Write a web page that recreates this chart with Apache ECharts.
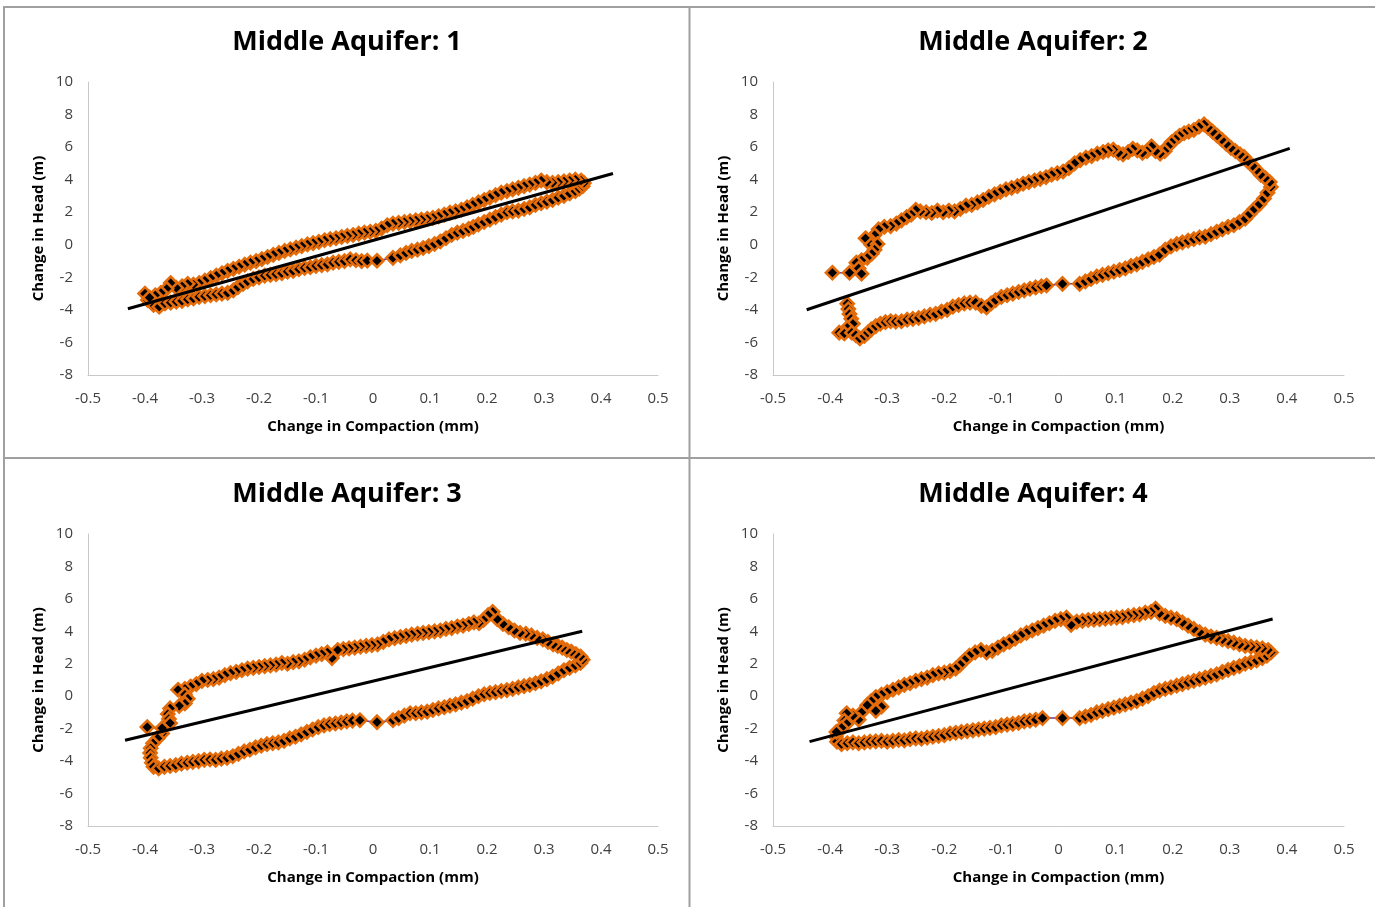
<!DOCTYPE html>
<html><head><meta charset="utf-8">
<script src="https://cdn.jsdelivr.net/npm/echarts@6/dist/echarts.min.js"></script>
<style>html,body{margin:0;padding:0;background:#fff}#c{width:1375px;height:907px}</style>
</head><body><div id="c"></div>
<script>
const panelTitles = ['Middle Aquifer: 1','Middle Aquifer: 2','Middle Aquifer: 3','Middle Aquifer: 4'];
const xName = 'Change in Compaction (mm)';
const yName = 'Change in Head (m)';
const xMin = -0.5, xMax = 0.5, xStep = 0.1;
const yMin = -8, yMax = 10, yStep = 2;

const loop1 = [[-0.40,-3.0],[-0.395,-3.4],[-0.385,-3.7],[-0.375,-3.8],[-0.365,-3.6],[-0.355,-3.55],[-0.345,-3.5],[-0.335,-3.45],[-0.325,-3.35],[-0.315,-3.3],[-0.305,-3.2],[-0.295,-3.15],[-0.285,-3.1],[-0.275,-3.05],[-0.265,-3.0],[-0.255,-2.95],[-0.245,-2.8],[-0.237,-2.6],[-0.228,-2.4],[-0.22,-2.25],[-0.21,-2.1],[-0.2,-2.0],[-0.19,-1.9],[-0.18,-1.85],[-0.17,-1.8],[-0.16,-1.75],[-0.15,-1.65],[-0.14,-1.6],[-0.13,-1.5],[-0.12,-1.42],[-0.11,-1.38],[-0.1,-1.3],[-0.09,-1.25],[-0.08,-1.2],[-0.07,-1.1],[-0.06,-1.05],[-0.05,-1.0],[-0.04,-0.9],[-0.03,-0.95],[-0.02,-1.0],[-0.01,-0.97],[0.007,-0.98],[0.035,-0.8],[0.048,-0.65],[0.058,-0.5],[0.068,-0.38],[0.078,-0.3],[0.088,-0.2],[0.098,-0.08],[0.108,0.05],[0.118,0.2],[0.128,0.4],[0.138,0.6],[0.148,0.75],[0.158,0.85],[0.168,0.98],[0.176,1.1],[0.185,1.25],[0.195,1.4],[0.205,1.55],[0.215,1.7],[0.225,1.85],[0.235,2.0],[0.245,2.05],[0.255,2.1],[0.265,2.2],[0.275,2.3],[0.285,2.45],[0.295,2.55],[0.305,2.65],[0.315,2.75],[0.325,2.9],[0.335,3.0],[0.345,3.15],[0.355,3.3],[0.362,3.45],[0.368,3.6],[0.37,3.8],[0.365,3.95],[0.355,4.0],[0.345,3.95],[0.335,3.9],[0.325,3.85],[0.315,3.8],[0.305,3.85],[0.295,3.95],[0.285,3.8],[0.275,3.7],[0.265,3.6],[0.255,3.5],[0.245,3.4],[0.235,3.3],[0.225,3.2],[0.215,3.05],[0.205,2.9],[0.195,2.75],[0.185,2.6],[0.175,2.45],[0.165,2.3],[0.155,2.15],[0.145,2.05],[0.135,1.97],[0.125,1.85],[0.115,1.75],[0.105,1.65],[0.095,1.6],[0.085,1.55],[0.075,1.5],[0.065,1.45],[0.055,1.4],[0.045,1.35],[0.035,1.3],[0.025,1.2],[0.015,1.0],[0.005,0.85],[-0.005,0.8],[-0.015,0.75],[-0.025,0.68],[-0.035,0.6],[-0.045,0.55],[-0.055,0.48],[-0.065,0.4],[-0.075,0.35],[-0.085,0.28],[-0.095,0.18],[-0.105,0.1],[-0.115,0.02],[-0.125,-0.08],[-0.135,-0.18],[-0.145,-0.28],[-0.155,-0.38],[-0.165,-0.5],[-0.175,-0.62],[-0.185,-0.75],[-0.195,-0.88],[-0.205,-1.0],[-0.215,-1.1],[-0.225,-1.22],[-0.235,-1.35],[-0.245,-1.48],[-0.255,-1.6],[-0.265,-1.75],[-0.275,-1.9],[-0.285,-2.05],[-0.295,-2.2],[-0.305,-2.35],[-0.315,-2.45],[-0.325,-2.4],[-0.335,-2.55],[-0.345,-2.65],[-0.355,-2.35],[-0.362,-2.7],[-0.372,-2.95],[-0.382,-3.1],[-0.392,-3.25]];

const loop2 = [[-0.37,-3.62],[-0.368,-3.95],[-0.366,-4.25],[-0.363,-4.55],[-0.36,-4.85],[-0.37,-5.1],[-0.384,-5.4],[-0.375,-5.45],[-0.362,-5.4],[-0.355,-5.55],[-0.348,-5.75],[-0.34,-5.6],[-0.334,-5.4],[-0.328,-5.2],[-0.32,-5.0],[-0.312,-4.85],[-0.303,-4.75],[-0.294,-4.7],[-0.285,-4.72],[-0.275,-4.7],[-0.265,-4.6],[-0.255,-4.55],[-0.245,-4.5],[-0.235,-4.4],[-0.225,-4.3],[-0.215,-4.25],[-0.205,-4.1],[-0.195,-4.0],[-0.185,-3.8],[-0.175,-3.7],[-0.165,-3.6],[-0.155,-3.55],[-0.145,-3.55],[-0.135,-3.75],[-0.126,-3.85],[-0.118,-3.6],[-0.11,-3.4],[-0.1,-3.2],[-0.09,-3.1],[-0.08,-3.0],[-0.07,-2.9],[-0.06,-2.8],[-0.05,-2.7],[-0.04,-2.62],[-0.03,-2.55],[-0.021,-2.5],[0.007,-2.4],[0.037,-2.4],[0.047,-2.25],[0.057,-2.1],[0.067,-1.95],[0.077,-1.85],[0.087,-1.75],[0.097,-1.65],[0.107,-1.55],[0.117,-1.45],[0.127,-1.3],[0.137,-1.2],[0.147,-1.05],[0.157,-0.9],[0.167,-0.75],[0.177,-0.6],[0.187,-0.3],[0.197,-0.1],[0.207,0.05],[0.217,0.15],[0.227,0.25],[0.237,0.35],[0.247,0.45],[0.257,0.5],[0.267,0.65],[0.277,0.8],[0.287,0.95],[0.297,1.1],[0.307,1.2],[0.317,1.4],[0.327,1.6],[0.335,1.9],[0.343,2.2],[0.352,2.5],[0.36,2.85],[0.366,3.2],[0.372,3.55],[0.37,3.85],[0.362,4.1],[0.354,4.3],[0.347,4.6],[0.34,4.85],[0.332,5.1],[0.325,5.4],[0.318,5.55],[0.31,5.75],[0.302,5.95],[0.294,6.2],[0.286,6.45],[0.278,6.7],[0.27,6.95],[0.262,7.2],[0.255,7.4],[0.246,7.25],[0.237,7.05],[0.228,6.95],[0.22,6.85],[0.212,6.7],[0.205,6.5],[0.198,6.3],[0.192,6.05],[0.186,5.75],[0.178,5.6],[0.17,5.75],[0.163,6.05],[0.155,5.75],[0.147,5.65],[0.138,5.8],[0.13,5.9],[0.122,5.7],[0.113,5.55],[0.105,5.65],[0.096,5.85],[0.087,5.8],[0.078,5.7],[0.068,5.6],[0.058,5.45],[0.048,5.35],[0.038,5.2],[0.028,5.0],[0.018,4.7],[0.008,4.5],[-0.002,4.4],[-0.012,4.3],[-0.022,4.15],[-0.032,4.05],[-0.042,3.95],[-0.052,3.85],[-0.062,3.75],[-0.072,3.6],[-0.082,3.5],[-0.092,3.4],[-0.102,3.25],[-0.112,3.1],[-0.122,2.95],[-0.132,2.75],[-0.142,2.6],[-0.152,2.45],[-0.162,2.4],[-0.172,2.2],[-0.182,2.05],[-0.192,2.1],[-0.202,2.0],[-0.212,2.1],[-0.222,1.95],[-0.232,2.0],[-0.242,2.05],[-0.25,2.15],[-0.258,1.85],[-0.266,1.7],[-0.275,1.5],[-0.284,1.3],[-0.294,1.15],[-0.305,1.1],[-0.315,0.95],[-0.322,0.6],[-0.33,0.3],[-0.338,0.4],[-0.328,0.0],[-0.317,0.05],[-0.322,-0.3],[-0.327,-0.55],[-0.335,-0.8],[-0.345,-0.95],[-0.354,-1.1],[-0.35,-1.45],[-0.345,-1.78],[-0.366,-1.72],[-0.396,-1.72]];

const loop3 = [[-0.37,-2.3],[-0.378,-2.6],[-0.386,-2.9],[-0.39,-3.2],[-0.391,-3.5],[-0.39,-3.8],[-0.388,-4.1],[-0.385,-4.35],[-0.376,-4.45],[-0.366,-4.35],[-0.356,-4.3],[-0.346,-4.25],[-0.336,-4.15],[-0.326,-4.1],[-0.316,-4.05],[-0.306,-4.0],[-0.296,-3.92],[-0.286,-3.9],[-0.276,-3.92],[-0.266,-3.85],[-0.256,-3.8],[-0.246,-3.7],[-0.236,-3.55],[-0.226,-3.4],[-0.216,-3.3],[-0.206,-3.15],[-0.196,-3.05],[-0.186,-2.95],[-0.176,-2.9],[-0.166,-2.85],[-0.156,-2.75],[-0.146,-2.6],[-0.136,-2.5],[-0.126,-2.35],[-0.116,-2.2],[-0.106,-2.05],[-0.096,-1.9],[-0.086,-1.8],[-0.076,-1.72],[-0.066,-1.68],[-0.056,-1.62],[-0.046,-1.55],[-0.036,-1.5],[-0.023,-1.48],[0.007,-1.6],[0.035,-1.48],[0.045,-1.35],[0.055,-1.2],[0.065,-1.05],[0.075,-1.05],[0.085,-1.0],[0.095,-0.95],[0.105,-0.85],[0.115,-0.75],[0.125,-0.68],[0.135,-0.58],[0.145,-0.5],[0.155,-0.4],[0.165,-0.3],[0.175,-0.15],[0.185,0.0],[0.195,0.12],[0.205,0.2],[0.215,0.25],[0.225,0.32],[0.235,0.38],[0.245,0.45],[0.255,0.55],[0.265,0.62],[0.275,0.7],[0.285,0.8],[0.295,0.92],[0.305,1.05],[0.315,1.2],[0.325,1.4],[0.335,1.6],[0.345,1.75],[0.355,1.9],[0.364,2.05],[0.368,2.25],[0.364,2.45],[0.356,2.6],[0.348,2.75],[0.34,2.85],[0.332,3.0],[0.324,3.1],[0.316,3.2],[0.307,3.35],[0.298,3.5],[0.288,3.6],[0.278,3.75],[0.268,3.85],[0.258,3.9],[0.248,4.05],[0.238,4.25],[0.228,4.45],[0.218,4.75],[0.21,5.2],[0.202,5.0],[0.194,4.7],[0.186,4.5],[0.177,4.55],[0.168,4.45],[0.158,4.35],[0.148,4.3],[0.138,4.2],[0.128,4.15],[0.118,4.05],[0.108,4.0],[0.098,3.95],[0.088,3.9],[0.078,3.85],[0.068,3.8],[0.058,3.72],[0.048,3.65],[0.038,3.58],[0.028,3.5],[0.018,3.35],[0.008,3.2],[-0.002,3.15],[-0.012,3.1],[-0.022,3.05],[-0.032,3.0],[-0.042,2.95],[-0.052,2.9],[-0.062,2.85],[-0.072,2.35],[-0.08,2.7],[-0.09,2.6],[-0.1,2.5],[-0.11,2.4],[-0.12,2.25],[-0.13,2.15],[-0.14,2.1],[-0.15,2.0],[-0.16,2.05],[-0.17,1.95],[-0.18,1.9],[-0.19,1.85],[-0.2,1.8],[-0.21,1.75],[-0.22,1.7],[-0.23,1.6],[-0.24,1.5],[-0.25,1.42],[-0.26,1.3],[-0.27,1.15],[-0.28,1.05],[-0.29,1.0],[-0.3,0.95],[-0.31,0.75],[-0.32,0.6],[-0.33,0.45],[-0.342,0.4],[-0.33,0.1],[-0.325,-0.15],[-0.33,-0.45],[-0.34,-0.6],[-0.356,-0.75],[-0.36,-1.1],[-0.358,-1.4],[-0.356,-1.66],[-0.37,-1.97],[-0.396,-1.9]];

const loop4 = [[-0.385,-2.2],[-0.39,-2.5],[-0.388,-2.8],[-0.38,-2.95],[-0.37,-2.9],[-0.36,-2.85],[-0.35,-2.9],[-0.34,-2.85],[-0.33,-2.8],[-0.32,-2.78],[-0.31,-2.75],[-0.3,-2.8],[-0.29,-2.75],[-0.28,-2.7],[-0.27,-2.72],[-0.26,-2.65],[-0.25,-2.6],[-0.24,-2.62],[-0.23,-2.55],[-0.22,-2.5],[-0.21,-2.45],[-0.2,-2.4],[-0.19,-2.3],[-0.18,-2.25],[-0.17,-2.2],[-0.16,-2.15],[-0.15,-2.1],[-0.14,-2.05],[-0.13,-2.0],[-0.12,-1.95],[-0.11,-1.9],[-0.1,-1.8],[-0.09,-1.75],[-0.08,-1.7],[-0.07,-1.65],[-0.06,-1.55],[-0.05,-1.5],[-0.04,-1.45],[-0.028,-1.35],[0.007,-1.35],[0.037,-1.35],[0.047,-1.25],[0.057,-1.15],[0.067,-1.0],[0.077,-0.9],[0.087,-0.8],[0.097,-0.7],[0.107,-0.6],[0.117,-0.5],[0.127,-0.4],[0.137,-0.3],[0.147,-0.15],[0.157,0.0],[0.167,0.2],[0.177,0.35],[0.187,0.45],[0.197,0.55],[0.207,0.65],[0.217,0.75],[0.227,0.85],[0.237,0.95],[0.247,1.05],[0.257,1.15],[0.267,1.25],[0.277,1.35],[0.287,1.5],[0.297,1.62],[0.307,1.75],[0.317,1.85],[0.327,2.0],[0.337,2.1],[0.347,2.2],[0.357,2.35],[0.365,2.5],[0.372,2.7],[0.367,2.85],[0.357,2.95],[0.347,3.0],[0.337,3.05],[0.327,3.1],[0.317,3.2],[0.307,3.3],[0.297,3.4],[0.287,3.5],[0.277,3.6],[0.267,3.68],[0.257,3.8],[0.247,3.95],[0.237,4.15],[0.227,4.35],[0.217,4.55],[0.207,4.75],[0.197,4.85],[0.187,4.95],[0.177,5.1],[0.17,5.4],[0.162,5.2],[0.152,5.15],[0.142,5.05],[0.132,5.0],[0.122,4.95],[0.112,4.88],[0.102,4.85],[0.092,4.82],[0.082,4.78],[0.072,4.75],[0.062,4.72],[0.052,4.7],[0.042,4.65],[0.032,4.6],[0.022,4.4],[0.014,4.85],[0.004,4.75],[-0.006,4.65],[-0.016,4.5],[-0.026,4.35],[-0.036,4.2],[-0.046,4.05],[-0.056,3.9],[-0.066,3.75],[-0.076,3.55],[-0.086,3.35],[-0.096,3.2],[-0.106,3.0],[-0.116,2.8],[-0.126,2.7],[-0.136,2.85],[-0.146,2.7],[-0.156,2.5],[-0.164,2.25],[-0.172,1.95],[-0.18,1.7],[-0.19,1.55],[-0.2,1.45],[-0.21,1.4],[-0.22,1.3],[-0.23,1.15],[-0.24,1.05],[-0.25,0.95],[-0.26,0.8],[-0.27,0.7],[-0.28,0.55],[-0.29,0.4],[-0.3,0.25],[-0.31,0.1],[-0.32,-0.05],[-0.328,-0.3],[-0.31,-0.65],[-0.32,-0.9],[-0.335,-0.55],[-0.345,-1.0],[-0.35,-1.45],[-0.36,-1.2],[-0.371,-1.05],[-0.375,-1.5],[-0.371,-1.7],[-0.38,-1.95],[-0.389,-2.2]];

const trend1 = [[-0.43,-3.93],[0.421,4.38]];
const trend2 = [[-0.441,-3.99],[0.405,5.92]];
const trend3 = [[-0.435,-2.71],[0.367,4.0]];
const trend4 = [[-0.436,-2.8],[0.375,4.76]];

const loops = [loop1, loop2, loop3, loop4];
const trends = [trend1, trend2, trend3, trend4];

const grids = [
  {left:88, top:82, width:570, height:293},
  {left:773, top:82, width:571, height:293},
  {left:88, top:534, width:570, height:292},
  {left:773, top:534, width:571, height:292}
];
const titlePos = [[342,44],[1028,44],[342,496],[1028,496]];

const FONT = '"Open Sans", "Noto Sans", sans-serif';
const chart = echarts.init(document.getElementById('c'));
const xAxes = [], yAxes = [], series = [], titles = [];
grids.forEach((g, i) => {
  titles.push({text: panelTitles[i], left: titlePos[i][0], top: titlePos[i][1] - 20, textAlign: 'center',
    textStyle: {fontFamily: FONT, fontWeight: 'bold', fontSize: 27, color: '#000'}});
  xAxes.push({type:'value', gridIndex:i, min:xMin, max:xMax, interval:xStep,
    axisLine:{show:true, onZero:false, lineStyle:{color:'#c8c8c8', width:1}},
    axisTick:{show:false}, splitLine:{show:false},
    axisLabel:{fontFamily:FONT, fontSize:15, color:'#404040', margin:16,
      formatter: v => { const r = Math.round(v*10)/10; return r === 0 ? '0' : String(r); }},
    name: xName, nameLocation:'middle', nameGap:44,
    nameTextStyle:{fontFamily:FONT, fontWeight:'bold', fontSize:15, color:'#000'}});
  yAxes.push({type:'value', gridIndex:i, min:yMin, max:yMax, interval:yStep,
    axisLine:{show:true, onZero:false, lineStyle:{color:'#c8c8c8', width:1}},
    axisTick:{show:false}, splitLine:{show:false},
    axisLabel:{fontFamily:FONT, fontSize:15, color:'#404040', margin:15},
    name: yName, nameLocation:'middle', nameGap:42, nameRotate:90,
    nameTextStyle:{fontFamily:FONT, fontWeight:'bold', fontSize:15, color:'#000'}});
  series.push({type:'line', xAxisIndex:i, yAxisIndex:i, data:loops[i],
    symbol:'diamond', symbolSize:13, showSymbol:true, showAllSymbol:true,
    itemStyle:{color:'#000', borderColor:'#E46C0A', borderWidth:2.6},
    lineStyle:{color:'#7030A0', width:1.5}, emphasis:{disabled:true}, silent:true, z:2});
  series.push({type:'line', xAxisIndex:i, yAxisIndex:i, data:trends[i],
    symbol:'none', lineStyle:{color:'#000', width:3}, emphasis:{disabled:true}, silent:true, z:3});
});

const bc = '#a0a0a0';
chart.setOption({
  animation:false,
  backgroundColor:'#fff',
  title: titles,
  grid: grids,
  xAxis: xAxes,
  yAxis: yAxes,
  series: series,
  graphic: [
    {type:'line', shape:{x1:4, y1:6, x2:4, y2:907}, style:{stroke:bc, lineWidth:2}, z:100},
    {type:'line', shape:{x1:3, y1:7, x2:1375, y2:7}, style:{stroke:bc, lineWidth:2}, z:100},
    {type:'line', shape:{x1:689.5, y1:6, x2:689.5, y2:907}, style:{stroke:bc, lineWidth:2}, z:100},
    {type:'line', shape:{x1:3, y1:458, x2:1375, y2:458}, style:{stroke:bc, lineWidth:2}, z:100}
  ]
});
</script></body></html>
